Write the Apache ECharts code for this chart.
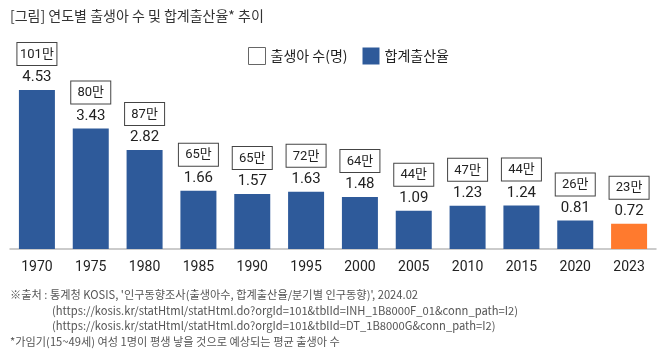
<!DOCTYPE html>
<html><head><meta charset="utf-8">
<script src="https://cdn.jsdelivr.net/npm/echarts@6/dist/echarts.min.js"></script>
<style>html,body{margin:0;padding:0;background:#fff}#c{width:669px;height:363px}</style>
</head><body><div id="c"></div>
<script>
const years = ['1970','1975','1980','1985','1990','1995','2000','2005','2010','2015','2020','2023'];
const fertility = [4.53,3.43,2.82,1.66,1.57,1.63,1.48,1.09,1.23,1.24,0.81,0.72];
const births = [101,80,87,65,65,72,64,44,47,44,26,23]; // 만 명
const title = '[그림] 연도별 출생아 수 및 합계출산율* 추이';
const notes = [
  "※출처 : 통계청 KOSIS, '인구동향조사(출생아수, 합계출산율/분기별 인구동향)', 2024.02",
  "(https://kosis.kr/statHtml/statHtml.do?orgId=101&tblId=INH_1B8000F_01&conn_path=I2)",
  "(https://kosis.kr/statHtml/statHtml.do?orgId=101&tblId=DT_1B8000G&conn_path=I2)",
  "*가임기(15~49세) 여성 1명이 평생 낳을 것으로 예상되는 평균 출생아 수"
];
const BLUE = '#2E5A9A', ORANGE = '#FF7A2E';
const KFONT = '"Noto Sans CJK KR", sans-serif';
const NFONT = 'Roboto, "Noto Sans CJK KR", sans-serif';

const chart = echarts.init(document.getElementById('c'));
chart.setOption({
  animation: false,
  backgroundColor: '#fff',
  grid: { left: 10, right: 13, top: 38.4, bottom: 114 },
  legend: {
    top: 42, left: 243, itemWidth: 17, itemHeight: 17, itemGap: 15,
    icon: 'rect',
    textStyle: { fontFamily: KFONT, fontSize: 14, color: '#222' },
    data: [
      { name: '출생아 수(명)', itemStyle: { color: '#fff', borderColor: '#666', borderWidth: 1 } },
      { name: '합계출산율', itemStyle: { color: BLUE } }
    ]
  },
  xAxis: {
    type: 'category', data: years,
    axisLine: { lineStyle: { color: '#bbb', width: 1.5 } },
    axisTick: { show: false },
    axisLabel: { fontFamily: NFONT, fontSize: 14, color: '#222', margin: 12 }
  },
  yAxis: { type: 'value', min: 0, max: 6, show: false, splitLine: { show: false } },
  series: [
    { name: '출생아 수(명)', type: 'bar', data: [], itemStyle: { color: '#fff', borderColor: '#666', borderWidth: 1 } },
    {
      name: '합계출산율', type: 'bar', barWidth: 36,
      data: fertility.map((v, i) => ({ value: v, itemStyle: { color: i === fertility.length - 1 ? ORANGE : BLUE } })),
      itemStyle: { color: BLUE },
      label: {
        show: true, position: 'top', distance: 5,
        formatter: p => p.value.toFixed(2),
        fontFamily: NFONT, fontSize: 15, color: '#222'
      }
    },
    {
      name: 'births-box', type: 'bar', barWidth: 36, barGap: '-100%', silent: true,
      data: fertility,
      itemStyle: { color: 'rgba(0,0,0,0)' },
      label: {
        show: true, position: 'top', distance: 25,
        formatter: p => births[p.dataIndex] + '만',
        fontFamily: NFONT, fontSize: 13, color: '#222', borderColor: '#444', borderWidth: 1,
        width: 35, align: 'center', padding: [4, 2, 3, 2], lineHeight: 15, backgroundColor: '#fff'
      }
    }
  ],
  graphic: [
    { type: 'text', left: 10, top: 9, style: { text: title, fontFamily: KFONT, fontSize: 14, fill: '#333' } },
    { type: 'text', left: 10, top: 289, style: { text: notes[0], fontFamily: KFONT, fontSize: 11.2, fill: '#555' } },
    { type: 'text', left: 52, top: 305, style: { text: notes[1], fontFamily: KFONT, fontSize: 11.2, fill: '#555' } },
    { type: 'text', left: 52, top: 320, style: { text: notes[2], fontFamily: KFONT, fontSize: 11.2, fill: '#555' } },
    { type: 'text', left: 10, top: 336, style: { text: notes[3], fontFamily: KFONT, fontSize: 11.2, fill: '#555' } }
  ]
});
</script></body></html>
